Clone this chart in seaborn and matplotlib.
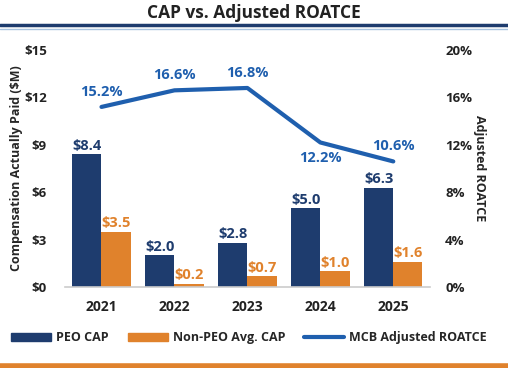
import matplotlib
matplotlib.use('Agg')
import matplotlib.pyplot as plt
import numpy as np
import pandas as pd
import seaborn as sns
from matplotlib.lines import Line2D
from matplotlib.patches import Patch

# chart values
years = ['2021', '2022', '2023', '2024', '2025']
peo_cap = [8.4, 2.0, 2.8, 5.0, 6.3]
non_peo_cap = [3.5, 0.2, 0.7, 1.0, 1.6]
roatce = [15.2, 16.6, 16.8, 12.2, 10.6]
left_ticks = [0, 3, 6, 9, 12, 15]
right_ticks = [0, 4, 8, 12, 16, 20]

NAVY = '#1e3c6e'
ORANGE = '#e0822c'
BLUE = '#1f5fae'

sns.set_style('white')
plt.rcParams['font.family'] = ['Open Sans', 'DejaVu Sans']
plt.rcParams['font.weight'] = 'bold'

df = pd.DataFrame({
    'Year': years * 2,
    'Value': peo_cap + non_peo_cap,
    'Series': ['PEO CAP'] * len(years) + ['Non-PEO Avg. CAP'] * len(years),
})

fig = plt.figure(figsize=(5.08, 3.68), dpi=100)
ax = fig.add_axes([0.128, 0.22, 0.718, 0.644])

sns.barplot(data=df, x='Year', y='Value', hue='Series',
            palette=[NAVY, ORANGE], width=0.8, gap=0, linewidth=0,
            ax=ax, legend=False, saturation=1)

# value labels on the bars
for cont, col in zip(ax.containers, [NAVY, ORANGE]):
    ax.bar_label(cont, labels=[f'${v:.1f}' for v in cont.datavalues],
                 color=col, fontsize=10.5, fontweight='bold', padding=1)

ax.set_ylim(0, 15)
ax.set_yticks(left_ticks)
ax.set_yticklabels([f'${t}' for t in left_ticks])
ax.set_xlim(-0.5, len(years) - 0.5)
ax.set_xlabel('')
ax.set_ylabel('Compensation Actually Paid ($M)', fontsize=9, fontweight='bold',
              labelpad=1)
ax.tick_params(axis='both', length=0, labelsize=9.5, colors='#222222')
ax.tick_params(axis='y', pad=13)
ax.tick_params(axis='x', pad=9, labelsize=10)
for s in ['top', 'right', 'left']:
    ax.spines[s].set_visible(False)
ax.spines['bottom'].set_color('#cccccc')
ax.spines['bottom'].set_linewidth(1.2)

# secondary axis for ROATCE
ax2 = ax.twinx()
xpos = np.arange(len(years))
sns.lineplot(x=xpos, y=roatce, color=BLUE, linewidth=3, ax=ax2)
ax2.set_ylim(0, 20)
ax2.set_yticks(right_ticks)
ax2.set_yticklabels([f'{t}%' for t in right_ticks])
ax2.tick_params(axis='y', length=0, labelsize=9.5, pad=11, colors='#222222')
ax2.set_ylabel('Adjusted ROATCE', rotation=270, fontsize=9, fontweight='bold',
               labelpad=10)
for s in ['top', 'right', 'left', 'bottom']:
    ax2.spines[s].set_visible(False)

offsets = [(0, 6), (0, 6), (0, 6), (0, -11), (0, 6)]
for x, v, (dx, dy) in zip(xpos, roatce, offsets):
    ax2.annotate(f'{v}%', (x, v), xytext=(dx, dy), textcoords='offset points',
                 ha='center', va='bottom' if dy > 0 else 'center',
                 color=BLUE, fontsize=10.5, fontweight='bold')

# title and rules
fig.text(0.5, 0.965, 'CAP vs. Adjusted ROATCE', ha='center', va='center',
         fontsize=12.5, fontweight='bold', color='#222222')
fig.add_artist(Line2D([0, 1], [0.932, 0.932], color=NAVY, linewidth=2.5,
                      transform=fig.transFigure))
fig.add_artist(Line2D([0, 1], [0.922, 0.922], color='#a9c4e0', linewidth=1,
                      transform=fig.transFigure))
fig.add_artist(Line2D([0, 1], [0.006, 0.006], color=ORANGE, linewidth=4,
                      transform=fig.transFigure))

handles = [Patch(color=NAVY, label='PEO CAP'),
           Patch(color=ORANGE, label='Non-PEO Avg. CAP'),
           Line2D([], [], color=BLUE, linewidth=3, label='MCB Adjusted ROATCE')]
fig.legend(handles=handles, loc='center', bbox_to_anchor=(0.49, 0.082), ncol=3,
           frameon=False, fontsize=9, handlelength=3.2, handleheight=0.6,
           columnspacing=1.5, handletextpad=0.4)

fig.savefig('out.png', dpi=100)
